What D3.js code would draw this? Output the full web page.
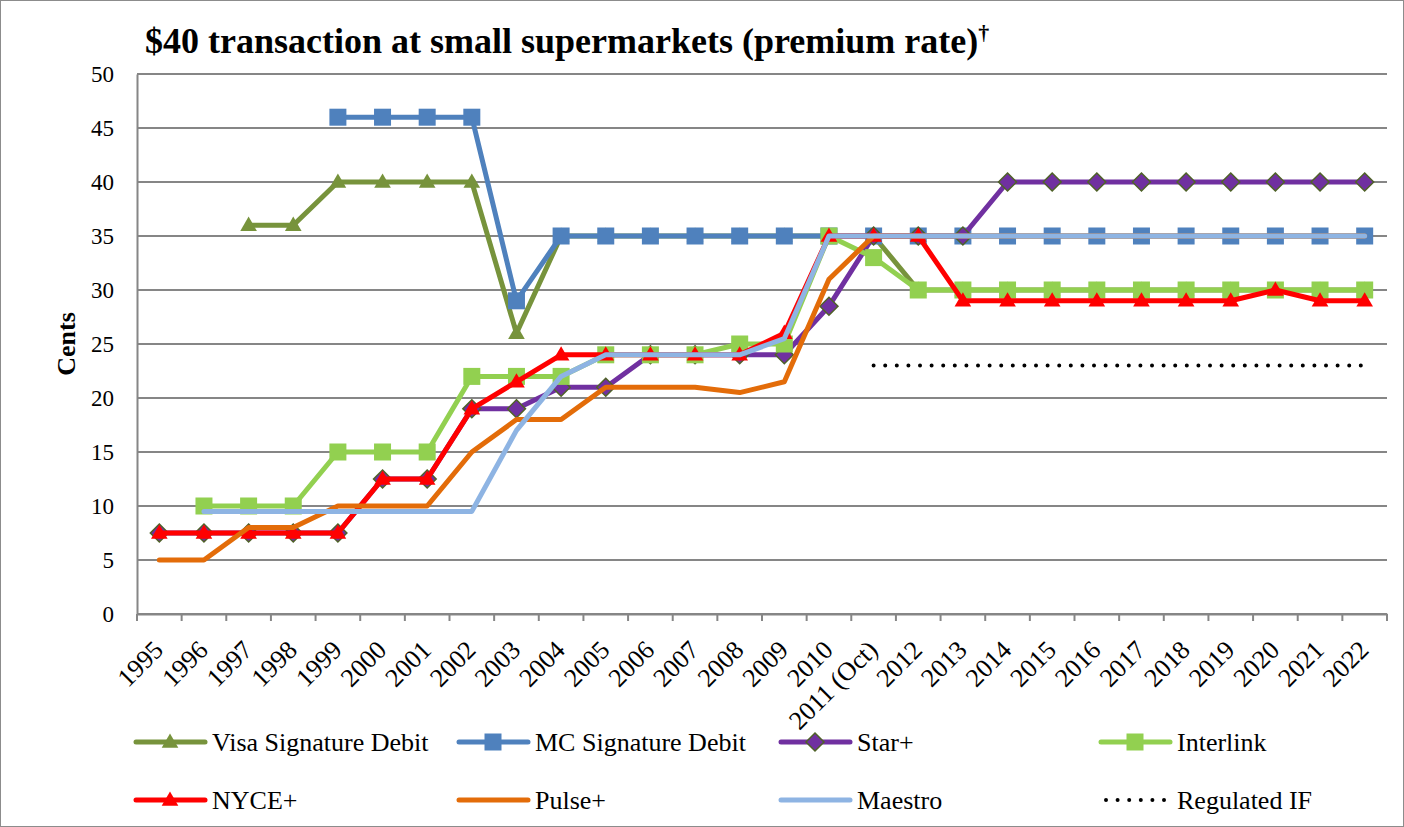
<!DOCTYPE html>
<html><head><meta charset="utf-8">
<script src="https://cdn.jsdelivr.net/npm/d3@7"></script>
<style>body{margin:0;background:#fff}svg{display:block}</style>
</head><body><svg id="c" width="1404" height="827"></svg>
<script>
const categories = ["1995","1996","1997","1998","1999","2000","2001","2002","2003","2004","2005","2006","2007","2008","2009","2010","2011 (Oct)","2012","2013","2014","2015","2016","2017","2018","2019","2020","2021","2022"];
const yTicks = [0,5,10,15,20,25,30,35,40,45,50];
const visa      = [null,null,36,36,40,40,40,40,26,35,35,35,35,35,35,35,35,30,30,30,30,30,30,30,30,30,30,30];
const mc        = [null,null,null,null,46,46,46,46,29,35,35,35,35,35,35,35,35,35,35,35,35,35,35,35,35,35,35,35];
const star      = [7.5,7.5,7.5,7.5,7.5,12.5,12.5,19,19,21,21,24,24,24,24,28.5,35,35,35,40,40,40,40,40,40,40,40,40];
const interlink = [null,10,10,10,15,15,15,22,22,22,24,24,24,25,25,35,33,30,30,30,30,30,30,30,30,30,30,30];
const nyce      = [7.5,7.5,7.5,7.5,7.5,12.5,12.5,19,21.5,24,24,24,24,24,26,35,35,35,29,29,29,29,29,29,29,30,29,29];
const pulse     = [5,5,8,8,10,10,10,15,18,18,21,21,21,20.5,21.5,31,35,35,35,35,35,35,35,35,35,35,35,35];
const maestro   = [null,9.5,9.5,9.5,9.5,9.5,9.5,9.5,17,22,24,24,24,24,25.5,35,35,35,35,35,35,35,35,35,35,35,35,35];
const regulated = [null,null,null,null,null,null,null,null,null,null,null,null,null,null,null,null,23,23,23,23,23,23,23,23,23,23,23,23];

const series = [
  {name:"Visa Signature Debit", values:visa, color:"#77933C", marker:"triangle"},
  {name:"MC Signature Debit", values:mc, color:"#4F81BD", marker:"square"},
  {name:"Star+", values:star, color:"#7030A0", marker:"diamond"},
  {name:"Interlink", values:interlink, color:"#92D050", marker:"square"},
  {name:"NYCE+", values:nyce, color:"#FF0000", marker:"triangle"},
  {name:"Pulse+", values:pulse, color:"#E36C09", marker:null},
  {name:"Maestro", values:maestro, color:"#8EB4E3", marker:null},
  {name:"Regulated IF", values:regulated, color:"#000000", marker:null, dotted:true}
];

const svg = d3.select("#c");
const font = "'Liberation Serif','Times New Roman',serif";
const L=137, R=1387, T=74, B=614;

svg.append("rect").attr("x",0.5).attr("y",0.5).attr("width",1403).attr("height",826)
  .attr("fill","#fff").attr("stroke","#8c8c8c").attr("stroke-width",1);

const x = d3.scaleBand().domain(categories).range([L,R]).padding(0);
const cx = c => x(c)+x.bandwidth()/2;
const y = d3.scaleLinear().domain([0,50]).range([B,T]);

// gridlines
svg.append("g").selectAll("line").data(yTicks).join("line")
  .attr("x1",L).attr("x2",R).attr("y1",d=>y(d)).attr("y2",d=>y(d))
  .attr("stroke","#868686").attr("stroke-width",2);

// y axis
const ya = svg.append("g").attr("transform",`translate(${L},0)`)
  .call(d3.axisLeft(y).tickValues(yTicks).tickSize(0).tickPadding(23));
ya.select(".domain").attr("stroke","#868686").attr("stroke-width",2);
ya.selectAll("text").attr("font-family",font).attr("font-size",23).attr("fill","#000");

// x axis
const xa = svg.append("g").attr("transform",`translate(0,${B})`)
  .call(d3.axisBottom(x).tickSize(0).tickFormat(""));
xa.select(".domain").attr("stroke","#868686").attr("stroke-width",2);
const idx = d3.range(categories.length+1);
const xb = d3.scaleLinear().domain([0,categories.length]).range([L,R]);
svg.append("g").selectAll("line").data(idx).join("line")
  .attr("x1",d=>xb(d)).attr("x2",d=>xb(d)).attr("y1",B).attr("y2",B+7)
  .attr("stroke","#868686").attr("stroke-width",2);
svg.append("g").selectAll("text").data(categories).join("text")
  .attr("transform",d=>`translate(${cx(d)-1},${B+31}) rotate(-45)`)
  .attr("text-anchor","end").attr("dy","0.35em")
  .attr("font-family",font).attr("font-size",26).text(d=>d);

// y label
svg.append("text").attr("transform",`translate(75,${(T+B)/2}) rotate(-90)`)
  .attr("text-anchor","middle").attr("font-family",font).attr("font-size",26)
  .attr("font-weight","bold").text("Cents");

// title
const tt = svg.append("text").attr("x",145).attr("y",53).attr("font-family",font)
  .attr("font-size",36).attr("font-weight","bold");
tt.append("tspan").text("$40 transaction at small supermarkets (premium rate)");
tt.append("tspan").attr("dy",-13).attr("font-size",22).text("†");

function drawMarker(g, type, color, px, py){
  if(type==="triangle"){
    g.append("path").attr("d",d3.symbol().type(d3.symbolTriangle).size(120)())
      .attr("transform",`translate(${px},${py+1})`).attr("fill",color);
  } else if(type==="square"){
    const s = 17;
    g.append("rect").attr("x",px-s/2).attr("y",py-s/2).attr("width",s).attr("height",s).attr("fill",color);
  } else if(type==="diamond"){
    const s=9;
    g.append("path").attr("d",`M${px},${py-s}L${px+s},${py}L${px},${py+s}L${px-s},${py}Z`)
      .attr("fill",color).attr("stroke","#4F6228").attr("stroke-width",1.5);
  }
}

const line = d3.line().defined(d=>d.v!=null).x(d=>cx(d.c)).y(d=>y(d.v));
series.forEach(s=>{
  const g = svg.append("g");
  const pts = categories.map((c,i)=>({c, v:s.values[i]}));
  const p = g.append("path").datum(pts).attr("d",line).attr("fill","none")
    .attr("stroke",s.color).attr("stroke-linejoin","round").attr("stroke-linecap","round");
  if(s.dotted){ p.attr("stroke-width",4).attr("stroke-dasharray","0 11.6"); }
  else p.attr("stroke-width",5);
  if(s.marker) pts.filter(d=>d.v!=null).forEach(d=>drawMarker(g,s.marker,s.color,cx(d.c),y(d.v)));
});

// legend
const cols=[135,458,780,1100], rows=[742,800];
series.forEach((s,i)=>{
  const lx = cols[i%4], ly = rows[Math.floor(i/4)];
  const g = svg.append("g");
  const ln = g.append("line").attr("x1",lx+1).attr("x2",lx+70).attr("y1",ly).attr("y2",ly)
    .attr("stroke",s.color).attr("stroke-linecap","round");
  if(s.dotted) ln.attr("stroke-width",4).attr("stroke-dasharray","0 11.6").attr("x1",lx+6).attr("x2",lx+70);
  else ln.attr("stroke-width",5);
  if(s.marker) drawMarker(g,s.marker,s.color,lx+35,ly);
  g.append("text").attr("x",lx+77).attr("y",ly).attr("dy","0.35em")
    .attr("font-family",font).attr("font-size",26).text(s.name);
});
</script></body></html>
